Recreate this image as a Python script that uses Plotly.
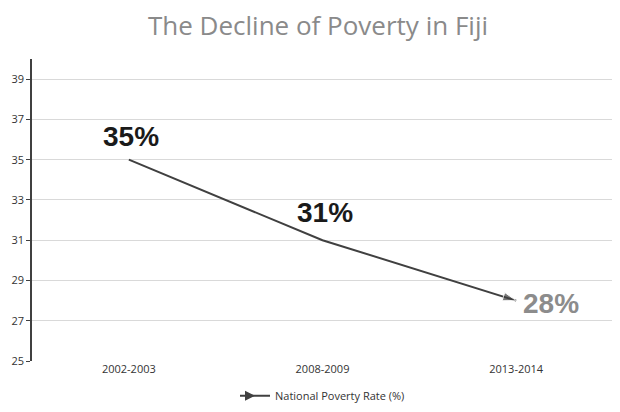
import plotly.graph_objects as go

# Fiji national poverty rate
periods = ["2002-2003", "2008-2009", "2013-2014"]
poverty_rate = [35, 31, 28]
rate_labels = ["35%", "31%", "28%"]
y_ticks = [25, 27, 29, 31, 33, 35, 37, 39]

fig = go.Figure()

fig.add_trace(go.Scatter(
    x=periods, y=poverty_rate,
    mode="lines+markers",
    name="National Poverty Rate (%)",
    line=dict(color="#404040", width=2),
    marker=dict(symbol=["circle", "circle", "arrow"], size=[0, 0, 14],
                angleref="previous", color="#404040"),
    showlegend=False,
))

# legend-only entry with an arrow
fig.add_trace(go.Scatter(
    x=[None], y=[None], mode="lines+markers",
    name="National Poverty Rate (%)",
    line=dict(color="#404040", width=2),
    marker=dict(symbol="arrow-right", size=10, color="#404040"),
))

# value labels
label_cfg = [(2, 23, "#1a1a1a"), (2, 28, "#1a1a1a"), (35, -3, "#8c8c8c")]
for i in range(len(periods)):
    xs, ys, col = label_cfg[i]
    fig.add_annotation(
        x=periods[i], y=poverty_rate[i], text="<b>" + rate_labels[i] + "</b>",
        showarrow=False, xshift=xs, yshift=ys,
        font=dict(family="Liberation Sans, Arial", size=28, color=col),
    )

fig.update_layout(
    width=620, height=412,
    paper_bgcolor="white", plot_bgcolor="white",
    margin=dict(l=24, r=15, t=51, b=59, autoexpand=False),
    title=dict(text="The Decline of Poverty in Fiji", x=0.5, xanchor="center",
               y=0.957, yanchor="middle",
               font=dict(family="Open Sans, Lato", size=26, color="#8a8a8a")),
    legend=dict(orientation="h", x=0.5, xanchor="center", y=-0.115, yanchor="middle",
                font=dict(family="Open Sans", size=11, color="#333333")),
    font=dict(family="Open Sans", size=11, color="#333333"),
)

fig.update_xaxes(range=[-0.5, 2.5], showgrid=False, showline=False, ticks="",
                 tickfont=dict(size=11, color="#333333"))
fig.update_yaxes(range=[25, 40], tickvals=y_ticks, showgrid=True,
                 gridcolor="#d9d9d9", gridwidth=1, zeroline=False,
                 showline=True, linecolor="#404040", linewidth=1.5,
                 ticks="outside", ticklen=4, tickcolor="#404040",
                 tickfont=dict(size=11, color="#333333"))

fig.write_html("out.html")
